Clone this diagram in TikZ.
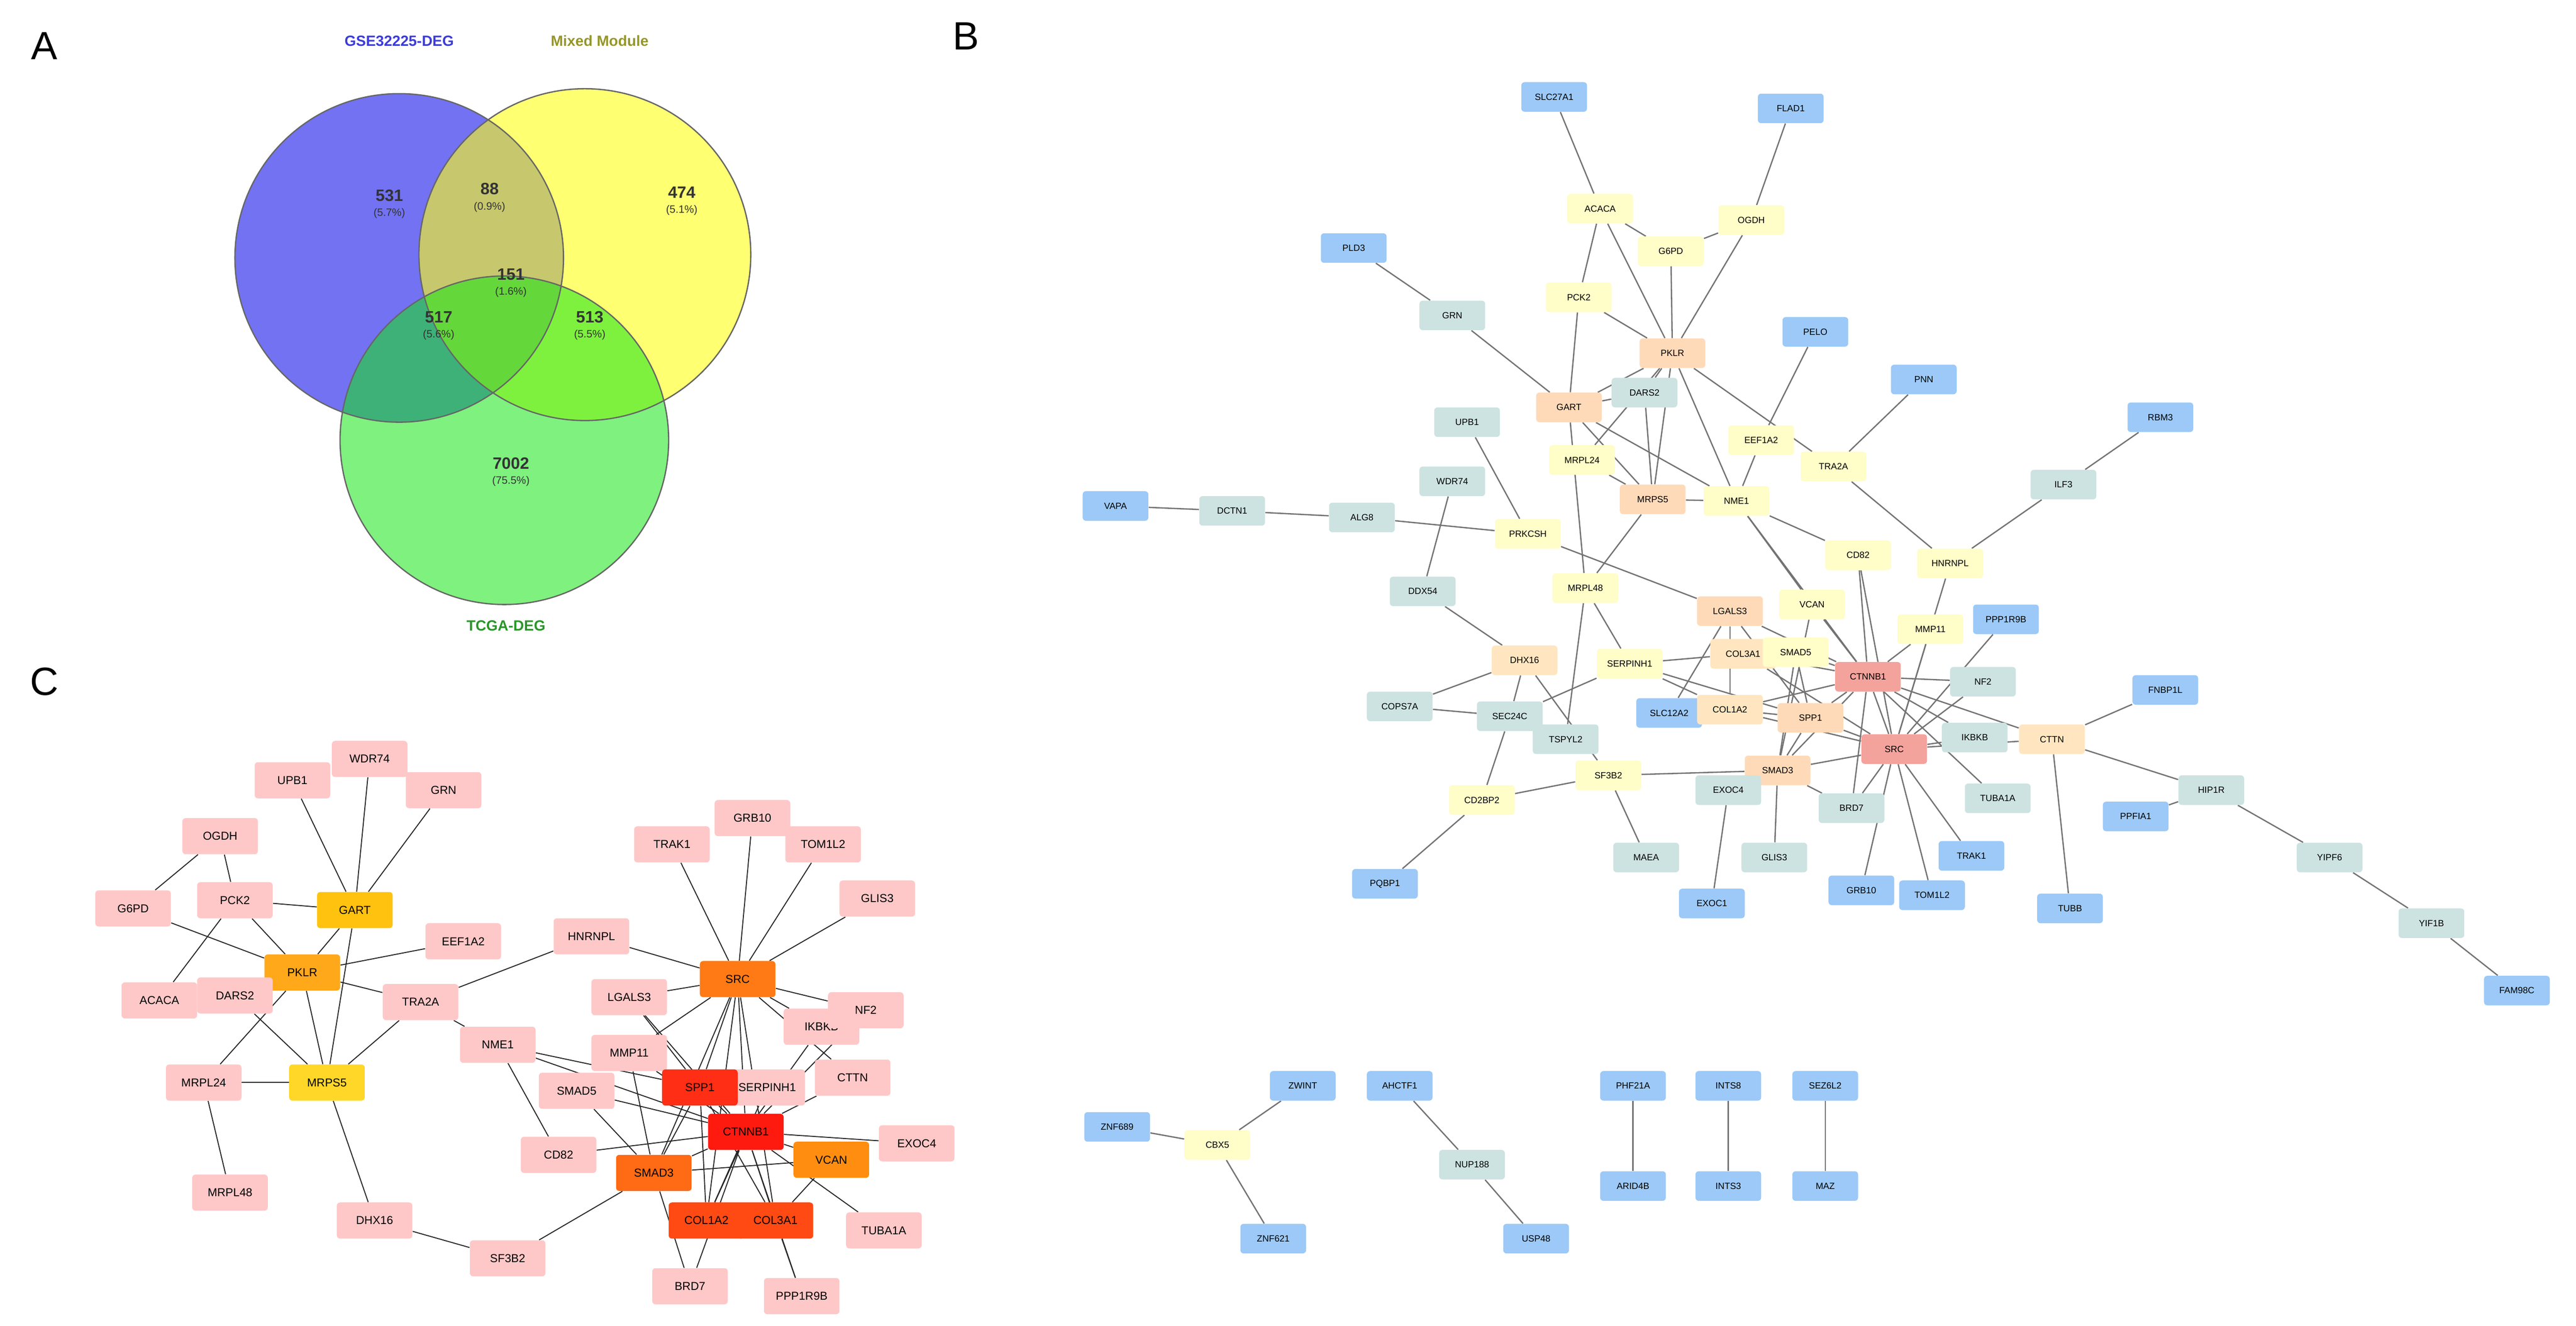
\documentclass[tikz,border=0pt]{standalone}
\usepackage{fontspec}
\setmainfont{Liberation Sans}
\usetikzlibrary{backgrounds}
\definecolor{bl}{HTML}{9CC9F7}
\definecolor{te}{HTML}{CDE3E1}
\definecolor{ye}{HTML}{FFFDC8}
\definecolor{pe}{HTML}{FFDAB9}
\definecolor{pl}{HTML}{FFE6C0}
\definecolor{sa}{HTML}{F4A29C}
\definecolor{pk}{HTML}{FFC8C8}
\definecolor{cgold}{HTML}{FFC20E}
\definecolor{corg}{HTML}{FFA81A}
\definecolor{cyel}{HTML}{FFD728}
\definecolor{csrc}{HTML}{FF7A14}
\definecolor{cred}{HTML}{FF1A10}
\definecolor{cred2}{HTML}{FF2E14}
\definecolor{csm}{HTML}{FF6A14}
\definecolor{cvc}{HTML}{FF8E10}
\definecolor{ccol}{HTML}{FF4A14}
\tikzset{
 nb/.style={rectangle,rounded corners=2pt,minimum width=40pt,minimum height=18pt,inner sep=1pt,font=\fontsize{5.5}{6}\selectfont},
 nc/.style={rectangle,rounded corners=2pt,minimum width=46pt,minimum height=22pt,inner sep=1pt,font=\fontsize{7}{8}\selectfont},
 ed/.style={draw=black!55,line width=0.8pt},
 edc/.style={draw=black!85,line width=0.6pt},
 lett/.style={font=\fontsize{24}{26}\selectfont},
 vn/.style={font=\bfseries\fontsize{10}{11}\selectfont,text=black!80},
 vp/.style={font=\fontsize{6.5}{7}\selectfont,text=black!80},
 vc/.style={draw=black!60,line width=0.8pt,fill opacity=0.6}
}
\begin{document}
\begin{tikzpicture}[x=1pt,y=-1pt]
\useasboundingbox (0,0) rectangle (1568,807);
\node[lett] (lA) at (27,28) {A};
\node[lett] (lB) at (588,22) {B};
\node[lett] (lC) at (27,415) {C};
% Venn
\fill[fill={rgb,255:red,20;green,20;blue,235},opacity=0.6] (243,157) circle (100);
\fill[fill={rgb,255:red,255;green,255;blue,20},opacity=0.6] (356,155) circle (101);
\fill[fill={rgb,255:red,20;green,230;blue,20},opacity=0.55] (307,268) circle (100);
\draw[black!60,line width=0.8pt] (243,157) circle (100) (356,155) circle (101) (307,268) circle (100);
\node[font=\bfseries\fontsize{9}{10}\selectfont,text={rgb,255:red,60;green,60;blue,220}] (tA1) at (243,25) {GSE32225-DEG};
\node[font=\bfseries\fontsize{9}{10}\selectfont,text={rgb,255:red,150;green,150;blue,40}] (tA2) at (365,25) {Mixed Module};
\node[font=\bfseries\fontsize{9}{10}\selectfont,text={rgb,255:red,40;green,150;blue,40}] (tA3) at (308,381) {TCGA-DEG};
\foreach \n/\p/\x/\y in {531/5.7/237/119, 88/0.9/298/115, 474/5.1/415/117, 151/1.6/311/167, 517/5.6/267/193, 513/5.5/359/193, 7002/75.5/311/282}{
 \node[vn] at (\x,\y) {\n};
 \node[vp] at (\x,\y+11) {(\p\%)};
}
% Panel B nodes
\foreach \n/\x/\y/\c in {SLC27A1/946/59/bl, FLAD1/1090/66/bl, PLD3/824/151/bl, ACACA/974/127/ye, OGDH/1066/134/ye, G6PD/1017/153/ye, GRN/884/192/te, PCK2/961/181/ye, PKLR/1018/215/pe, PELO/1105/202/bl, PNN/1171/231/bl, RBM3/1315/254/bl, GART/955/248/pe, DARS2/1001/239/te, UPB1/893/257/te, EEF1A2/1072/268/ye, MRPL24/963/280/ye, TRA2A/1116/284/ye, ILF3/1256/295/te, WDR74/884/293/te, MRPS5/1006/304/pe, NME1/1057/305/ye, VAPA/679/308/bl, DCTN1/750/311/te, ALG8/829/315/te, PRKCSH/930/325/ye, CD82/1131/338/ye, HNRNPL/1187/343/ye, DDX54/866/360/te, MRPL48/965/358/ye, VCAN/1103/368/ye, LGALS3/1053/372/pe, MMP11/1175/383/ye, PPP1R9B/1221/377/bl, DHX16/928/402/pl, SERPINH1/992/404/ye, COL3A1/1061/398/pl, SMAD5/1093/397/ye, CTNNB1/1137/412/sa, NF2/1207/415/te, FNBP1L/1318/420/bl, COPS7A/852/430/te, SEC24C/919/436/te, SLC12A2/1016/434/bl, COL1A2/1053/432/pl, SPP1/1102/437/pe, IKBKB/1202/449/te, CTTN/1249/450/pl, TSPYL2/953/450/te, SRC/1153/456/sa, SMAD3/1082/469/pe, SF3B2/979/472/ye, EXOC4/1052/481/te, CD2BP2/902/487/ye, BRD7/1127/492/te, HIP1R/1346/481/te, TUBA1A/1216/486/te, PPFIA1/1300/497/bl, MAEA/1002/522/te, GLIS3/1080/522/te, TRAK1/1200/521/bl, YIPF6/1418/522/te, PQBP1/843/538/bl, EXOC1/1042/550/bl, GRB10/1133/542/bl, TOM1L2/1176/545/bl, TUBB/1260/553/bl, YIF1B/1480/562/te, FAM98C/1532/603/bl, ZNF689/680/686/bl, ZWINT/793/661/bl, CBX5/741/697/ye, AHCTF1/852/661/bl, NUP188/896/709/te, ZNF621/775/754/bl, USP48/935/754/bl, PHF21A/994/661/bl, ARID4B/994/722/bl, INTS8/1052/661/bl, INTS3/1052/722/bl, SEZ6L2/1111/661/bl, MAZ/1111/722/bl}
 \node[nb,fill=\c] (b\n) at (\x,\y) {\n};
\begin{scope}[on background layer]
\foreach \a/\b in {SLC27A1/ACACA, ACACA/PCK2, ACACA/G6PD, ACACA/PKLR, G6PD/OGDH, OGDH/PKLR, FLAD1/OGDH, PCK2/PKLR, PCK2/GART, G6PD/PKLR, PLD3/GRN, GRN/GART, PKLR/GART, PKLR/MRPS5, PKLR/DARS2, PKLR/NME1, PKLR/TRA2A, PKLR/MRPL24, GART/MRPS5, GART/DARS2, GART/MRPL48, GART/NME1, UPB1/PRKCSH, WDR74/DDX54, DARS2/MRPS5, MRPL24/MRPS5, MRPS5/NME1, MRPS5/MRPL48, PELO/EEF1A2, EEF1A2/NME1, PNN/TRA2A, TRA2A/HNRNPL, HNRNPL/ILF3, RBM3/ILF3, NME1/CD82, NME1/VCAN, NME1/CTNNB1, VAPA/DCTN1, DCTN1/ALG8, ALG8/PRKCSH, PRKCSH/LGALS3, DDX54/DHX16, DHX16/SEC24C, DHX16/SF3B2, DHX16/COPS7A, MRPL48/TSPYL2, MRPL48/SERPINH1, SEC24C/CD2BP2, SEC24C/COPS7A, SEC24C/SERPINH1, CD2BP2/PQBP1, CD2BP2/SF3B2, SF3B2/MAEA, SF3B2/SMAD3, LGALS3/CTNNB1, LGALS3/SPP1, LGALS3/COL1A2, LGALS3/SLC12A2, CD82/CTNNB1, CD82/SRC, HNRNPL/SRC, MMP11/CTNNB1, MMP11/SRC, PPP1R9B/SRC, VCAN/CTNNB1, VCAN/SMAD3, SERPINH1/COL1A2, SERPINH1/COL3A1, SERPINH1/SPP1, COL3A1/CTNNB1, COL3A1/SRC, COL1A2/CTNNB1, COL1A2/SRC, SMAD5/CTNNB1, SMAD5/SMAD3, SMAD5/SPP1, CTNNB1/SRC, CTNNB1/NF2, CTNNB1/IKBKB, CTNNB1/CTTN, CTNNB1/SMAD3, CTNNB1/SPP1, CTNNB1/TUBA1A, CTNNB1/BRD7, SRC/CTTN, SRC/IKBKB, SRC/SPP1, SRC/SMAD3, SRC/TRAK1, SRC/TOM1L2, SRC/GRB10, SRC/BRD7, SRC/NF2, CTTN/FNBP1L, CTTN/HIP1R, CTTN/TUBB, HIP1R/PPFIA1, HIP1R/YIPF6, YIPF6/YIF1B, YIF1B/FAM98C, SMAD3/EXOC4, SMAD3/GLIS3, EXOC4/EXOC1, SMAD3/BRD7, SMAD3/SPP1, SPP1/COL1A2, ZNF689/CBX5, ZWINT/CBX5, CBX5/ZNF621, AHCTF1/NUP188, NUP188/USP48, PHF21A/ARID4B, INTS8/INTS3, SEZ6L2/MAZ}
 \draw[ed] (b\a) -- (b\b);
\end{scope}
% Panel C
\foreach \n/\x/\y/\c in {UPB1/178/475/pk, WDR74/225/462/pk, GRN/270/481/pk, OGDH/134/509/pk, PCK2/143/548/pk, GART/216/554/cgold, G6PD/81/553/pk, PKLR/184/592/corg, EEF1A2/282/573/pk, DARS2/143/606/pk, ACACA/97/609/pk, TRA2A/256/610/pk, HNRNPL/360/570/pk, MRPS5/199/659/cyel, MRPL24/124/659/pk, NME1/303/636/pk, MRPL48/140/726/pk, DHX16/228/743/pk, SF3B2/309/766/pk, TRAK1/409/514/pk, GRB10/458/498/pk, TOM1L2/501/514/pk, GLIS3/534/547/pk, SRC/449/596/csrc, LGALS3/383/607/pk, IKBKB/500/625/pk, NF2/527/615/pk, MMP11/383/641/pk, SMAD5/351/664/pk, CTTN/519/656/pk, SERPINH1/467/662/pk, SPP1/426/662/cred2, CTNNB1/454/689/cred, CD82/340/703/pk, SMAD3/398/714/csm, VCAN/506/706/cvc, EXOC4/558/696/pk, TUBA1A/538/749/pk, COL1A2/430/743/ccol, COL3A1/472/743/ccol, BRD7/420/783/pk, PPP1R9B/488/789/pk}
 \node[nc,fill=\c] (c\n) at (\x,\y) {\n};
\begin{scope}[on background layer]
\foreach \a/\b in {UPB1/GART, WDR74/GART, GRN/GART, OGDH/PCK2, OGDH/G6PD, G6PD/PKLR, PCK2/ACACA, PCK2/PKLR, PCK2/GART, GART/PKLR, GART/MRPS5, PKLR/MRPS5, PKLR/EEF1A2, PKLR/DARS2, PKLR/TRA2A, DARS2/MRPS5, MRPL24/MRPS5, MRPL24/MRPL48, MRPL24/PKLR, MRPS5/TRA2A, MRPS5/DHX16, TRA2A/NME1, TRA2A/HNRNPL, HNRNPL/SRC, NME1/CD82, NME1/CTNNB1, NME1/SPP1, DHX16/SF3B2, SF3B2/SMAD3, SRC/TRAK1, SRC/GRB10, SRC/TOM1L2, SRC/GLIS3, SRC/LGALS3, SRC/IKBKB, SRC/NF2, SRC/CTTN, SRC/SPP1, SRC/CTNNB1, SRC/SMAD3, SRC/COL1A2, SRC/COL3A1, SRC/MMP11, LGALS3/CTNNB1, LGALS3/SPP1, MMP11/CTNNB1, MMP11/SMAD3, SMAD5/SMAD3, SMAD5/CTNNB1, CD82/CTNNB1, SPP1/CTNNB1, SPP1/COL1A2, SPP1/COL3A1, SPP1/SMAD3, SERPINH1/COL1A2, CTNNB1/COL1A2, CTNNB1/COL3A1, CTNNB1/SMAD3, CTNNB1/VCAN, CTNNB1/EXOC4, CTNNB1/TUBA1A, CTNNB1/BRD7, CTNNB1/PPP1R9B, CTNNB1/IKBKB, CTNNB1/NF2, CTNNB1/CTTN, SMAD3/BRD7, VCAN/COL3A1, VCAN/SMAD3, COL3A1/PPP1R9B}
 \draw[edc] (c\a) -- (c\b);
\end{scope}
\end{tikzpicture}
\end{document}
